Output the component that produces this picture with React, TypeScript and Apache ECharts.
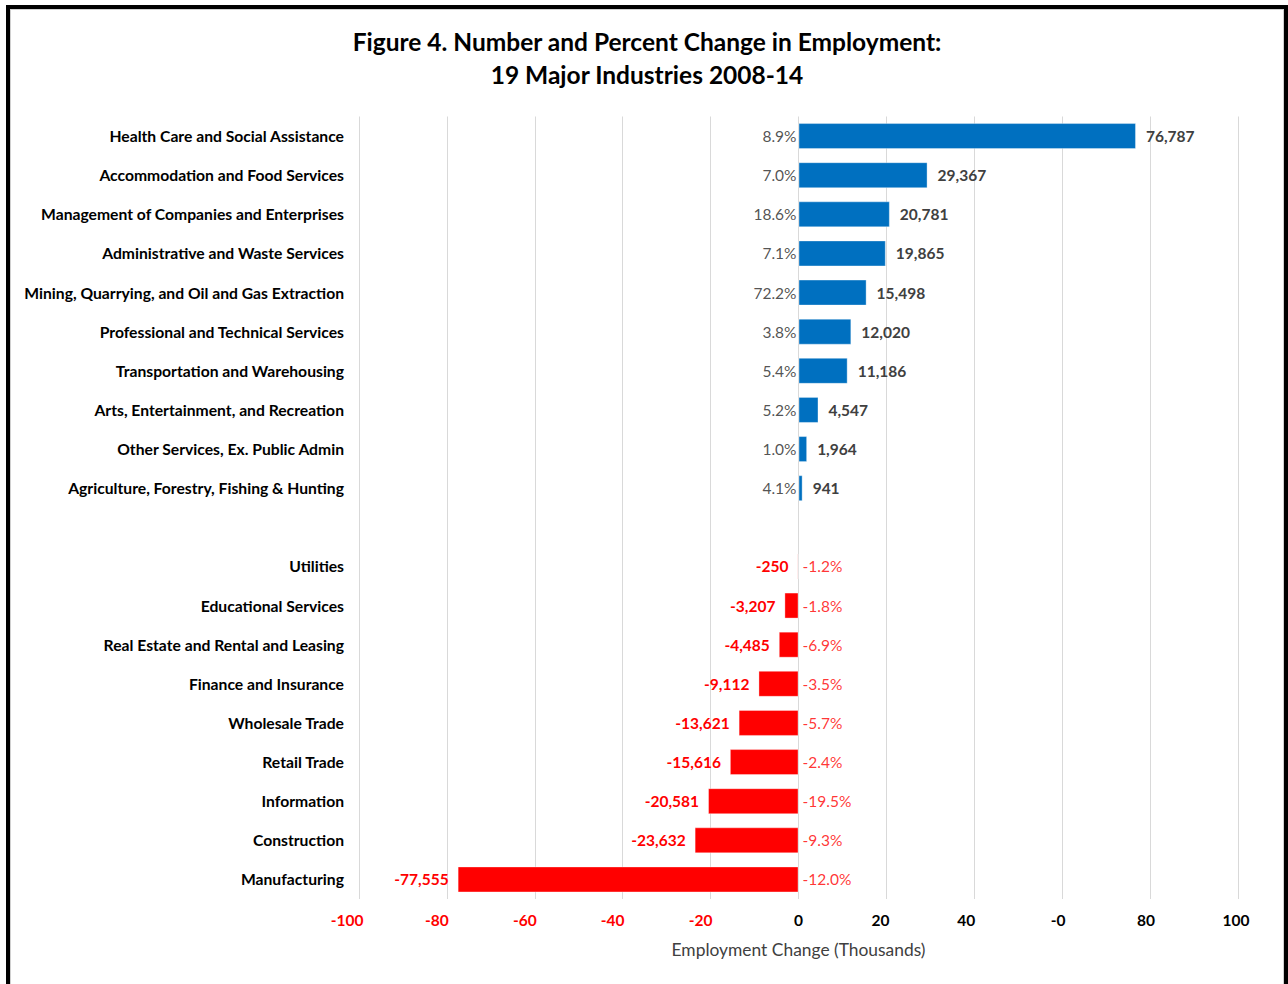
import React, { useEffect, useRef } from "react";
import * as echarts from "echarts";

const categories = [
  "Health Care and Social Assistance",
  "Accommodation and Food Services",
  "Management of Companies and Enterprises",
  "Administrative and Waste Services",
  "Mining, Quarrying, and Oil and Gas Extraction",
  "Professional and Technical Services",
  "Transportation and Warehousing",
  "Arts, Entertainment, and Recreation",
  "Other Services, Ex. Public Admin",
  "Agriculture, Forestry, Fishing & Hunting",
  "",
  "Utilities",
  "Educational Services",
  "Real Estate and Rental and Leasing",
  "Finance and Insurance",
  "Wholesale Trade",
  "Retail Trade",
  "Information",
  "Construction",
  "Manufacturing",
];

const employmentChange: (number | null)[] = [
  76787, 29367, 20781, 19865, 15498, 12020, 11186, 4547, 1964, 941, null,
  -250, -3207, -4485, -9112, -13621, -15616, -20581, -23632, -77555,
];

const percentChange: (string | null)[] = [
  "8.9%", "7.0%", "18.6%", "7.1%", "72.2%", "3.8%", "5.4%", "5.2%", "1.0%", "4.1%", null,
  "-1.2%", "-1.8%", "-6.9%", "-3.5%", "-5.7%", "-2.4%", "-19.5%", "-9.3%", "-12.0%",
];

const xTickLabels: Record<string, string> = {
  "-100": "-100", "-80": "-80", "-60": "-60", "-40": "-40", "-20": "-20",
  "0": "0", "20": "20", "40": "40", "60": "-0", "80": "80", "100": "100",
};

const FONT = "Lato";
const BLUE = "#0070C0";
const RED = "#FF0000";
const GREY = "#404040";

const fmt = (v: number) => {
  const s = Math.abs(v).toLocaleString("en-US");
  return v < 0 ? "-" + s : s;
};

// small horizontal nudges (px, leftwards) for tick labels, as rich style keys
const tickShift: Record<string, number> = {
  "-100": 12, "-80": 10, "-60": 10, "-40": 10, "-20": 10,
  "0": 0, "20": 6, "40": 8, "60": 4, "80": 4, "100": 2,
};

export default function App() {
  const ref = useRef<HTMLDivElement>(null);
  useEffect(() => {
    if (!ref.current) return;
    const chart = echarts.init(ref.current, null, { renderer: "svg" });
    const barData = employmentChange.map((v) => {
      if (v === null) return { value: null };
      const neg = v < 0;
      return {
        value: v / 1000,
        itemStyle: { color: neg ? RED : BLUE },
        label: {
          show: true,
          position: neg ? "left" : "right",
          distance: neg ? 9 : 10,
          formatter: fmt(v),
          color: neg ? RED : GREY,
          fontWeight: "bold",
          fontSize: 15.5,
          fontFamily: FONT,
        },
      };
    });
    const pctData = percentChange.map((p, i) => {
      const v = employmentChange[i];
      if (p === null || v === null) return { value: null };
      const neg = v < 0;
      return {
        value: [0, i],
        label: {
          show: true,
          position: neg ? "right" : "left",
          distance: neg ? 4 : 2,
          formatter: p,
          color: neg ? RED : "#262626",
          fontSize: 15.5,
          fontFamily: FONT,
        },
      };
    });
    const rich: Record<string, any> = {};
    Object.keys(tickShift).forEach((k, idx) => {
      const val = Number(k);
      rich["t" + idx] = {
        color: val < 0 ? RED : "#000",
        fontFamily: FONT,
        fontWeight: "bold",
        fontSize: 15.5,
        padding: [0, tickShift[k] * 2, 0, 0],
      };
    });
    const keys = Object.keys(tickShift);
    chart.setOption({
      animation: false,
      backgroundColor: "transparent",
      title: {
        text: "Figure 4. Number and Percent Change in Employment:\n19 Major Industries 2008-14",
        left: 642,
        textAlign: "center",
        top: 20,
        textStyle: {
          fontFamily: FONT,
          fontWeight: "bold",
          fontSize: 24.5,
          lineHeight: 33,
          color: "#000",
        },
      },
      grid: { left: 359, right: 50, top: 116.5, bottom: 85, containLabel: false },
      xAxis: {
        type: "value",
        min: -100,
        max: 100,
        interval: 20,
        splitLine: { show: true, lineStyle: { color: "#d9d9d9", width: 1 } },
        axisLine: { show: false },
        axisTick: { show: false },
        axisLabel: {
          margin: 13,
          fontFamily: FONT,
          fontWeight: "bold",
          fontSize: 15.5,
          formatter: (val: number) => {
            const k = String(val);
            const t = xTickLabels[k] ?? k;
            const idx = keys.indexOf(k);
            return "{t" + idx + "|" + t + "}";
          },
          rich,
        },
        name: "Employment Change (Thousands)",
        nameLocation: "middle",
        nameGap: 42,
        nameTextStyle: { fontFamily: FONT, fontSize: 17.4, color: GREY },
      },
      yAxis: {
        type: "category",
        data: categories,
        inverse: true,
        axisLine: { show: false },
        axisTick: { show: false },
        splitLine: { show: false },
        axisLabel: {
          margin: 15,
          fontFamily: FONT,
          fontWeight: "bold",
          fontSize: 15.7,
          color: "#000",
        },
      },
      series: [
        {
          type: "bar",
          data: barData,
          barWidth: 26,
          itemStyle: { borderColor: "rgba(255,255,255,0.35)", borderWidth: 1 },
        },
        {
          type: "scatter",
          data: pctData,
          symbolSize: 0,
          silent: true,
        },
      ],
    });
    return () => chart.dispose();
  }, []);
  return (
    <div style={{ position: "absolute", left: 0, top: 0, width: 1288, height: 984, overflow: "hidden", background: "#fff" }}>
      <div
        style={{
          position: "absolute",
          left: 6,
          top: 5,
          width: 1282,
          height: 1010,
          boxSizing: "border-box",
          border: "4px solid #000",
          boxShadow: "inset 1px 1px 0 0 #d0d0d0, inset -1px 0 0 0 #d0d0d0",
        }}
      />
      <div ref={ref} style={{ position: "absolute", left: 0, top: 0, width: 1288, height: 984 }} />
    </div>
  );
}
